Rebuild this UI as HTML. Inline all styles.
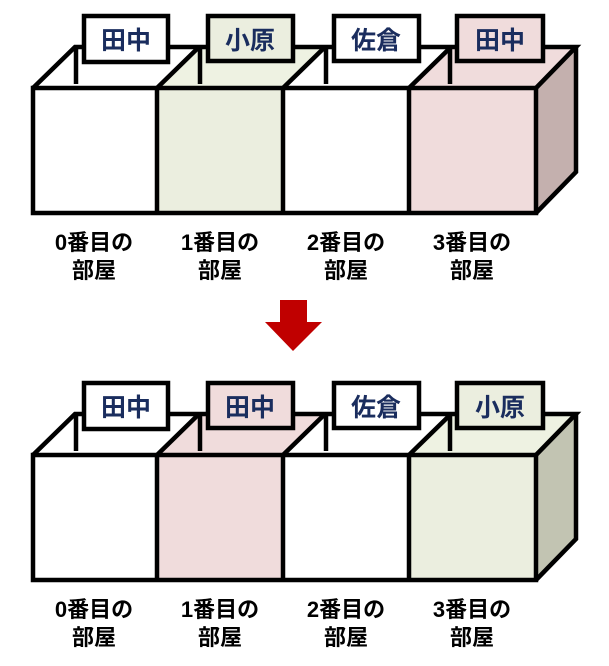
<!DOCTYPE html>
<html><head><meta charset="utf-8"><style>
html,body{margin:0;padding:0;background:#fff;}
svg{display:block}
text{font-family:"Liberation Sans","Noto Sans CJK JP",sans-serif;font-weight:bold;}
</style></head><body>
<svg width="609" height="666" viewBox="0 0 609 666" xmlns="http://www.w3.org/2000/svg">
<!-- TOP DIAGRAM -->
<g id="top">
  <polygon points="33,88 75,47 199,47 157,88" fill="#fff"/>
  <polygon points="157,88 199,47 325,47 283,88" fill="#eef2e2"/>
  <polygon points="283,88 325,47 451,47 409,88" fill="#fff"/>
  <polygon points="409,88 451,47 576,47 536,88" fill="#f0dcdc"/>
  <polygon points="536,88 576,47 576,172 536,213" fill="#c4b0ae"/>
  <rect x="33" y="88" width="124" height="125" fill="#fff"/>
  <rect x="157" y="88" width="126" height="125" fill="#ebeedf"/>
  <rect x="283" y="88" width="126" height="125" fill="#fff"/>
  <rect x="409" y="88" width="127" height="125" fill="#f0dcdc"/>
  <g stroke="#000" stroke-width="4.5" fill="none" stroke-linejoin="miter">
    <polygon points="33,88 536,88 536,213 33,213"/>
    <line x1="157" y1="88" x2="157" y2="213"/>
    <line x1="283" y1="88" x2="283" y2="213"/>
    <line x1="409" y1="88" x2="409" y2="213"/>
    <polyline points="33,88 75,47 576,47 536,88"/>
    <polyline points="576,47 576,172 536,213"/>
    <line x1="157" y1="88" x2="199" y2="47"/>
    <line x1="283" y1="88" x2="325" y2="47"/>
    <line x1="409" y1="88" x2="451" y2="47"/>
    <line x1="76" y1="47" x2="76" y2="84"/>
    <line x1="200" y1="47" x2="200" y2="84"/>
    <line x1="326" y1="47" x2="326" y2="84"/>
    <line x1="450" y1="47" x2="450" y2="84"/>
  </g>
  <g stroke="#000" stroke-width="4.5">
    <rect x="84" y="16" width="84" height="46" fill="#fff"/>
    <rect x="208" y="16" width="85" height="45" fill="#ebeedf"/>
    <rect x="334" y="16" width="85" height="45" fill="#fff"/>
    <rect x="457" y="16" width="86" height="45" fill="#f0dcdc"/>
  </g>
  <g fill="#1a2d5e" font-size="25" text-anchor="middle">
    <text x="126" y="49">田中</text>
    <text x="250" y="49">小原</text>
    <text x="376" y="49">佐倉</text>
    <text x="500" y="49">田中</text>
  </g>
  <g fill="#000" font-size="22" text-anchor="middle">
    <text x="94" y="250">0番目の</text><text x="94" y="278">部屋</text>
    <text x="220" y="250">1番目の</text><text x="220" y="278">部屋</text>
    <text x="346" y="250">2番目の</text><text x="346" y="278">部屋</text>
    <text x="472" y="250">3番目の</text><text x="472" y="278">部屋</text>
  </g>
</g>
<polygon points="280,300 307,300 307,322 322,322 293,351 265,322 280,322" fill="#c00000"/>
<!-- BOTTOM DIAGRAM -->
<g transform="translate(0,367)">
  <polygon points="33,88 75,47 199,47 157,88" fill="#fff"/>
  <polygon points="157,88 199,47 325,47 283,88" fill="#f0dcdc"/>
  <polygon points="283,88 325,47 451,47 409,88" fill="#fff"/>
  <polygon points="409,88 451,47 576,47 536,88" fill="#eef2e2"/>
  <polygon points="536,88 576,47 576,172 536,213" fill="#c2c4b2"/>
  <rect x="33" y="88" width="124" height="125" fill="#fff"/>
  <rect x="157" y="88" width="126" height="125" fill="#f0dcdc"/>
  <rect x="283" y="88" width="126" height="125" fill="#fff"/>
  <rect x="409" y="88" width="127" height="125" fill="#ebeedf"/>
  <g stroke="#000" stroke-width="4.5" fill="none">
    <polygon points="33,88 536,88 536,213 33,213"/>
    <line x1="157" y1="88" x2="157" y2="213"/>
    <line x1="283" y1="88" x2="283" y2="213"/>
    <line x1="409" y1="88" x2="409" y2="213"/>
    <polyline points="33,88 75,47 576,47 536,88"/>
    <polyline points="576,47 576,172 536,213"/>
    <line x1="157" y1="88" x2="199" y2="47"/>
    <line x1="283" y1="88" x2="325" y2="47"/>
    <line x1="409" y1="88" x2="451" y2="47"/>
    <line x1="76" y1="47" x2="76" y2="84"/>
    <line x1="200" y1="47" x2="200" y2="84"/>
    <line x1="326" y1="47" x2="326" y2="84"/>
    <line x1="450" y1="47" x2="450" y2="84"/>
  </g>
  <g stroke="#000" stroke-width="4.5">
    <rect x="84" y="16" width="84" height="46" fill="#fff"/>
    <rect x="208" y="16" width="85" height="45" fill="#f0dcdc"/>
    <rect x="334" y="16" width="85" height="45" fill="#fff"/>
    <rect x="457" y="16" width="86" height="45" fill="#ebeedf"/>
  </g>
  <g fill="#1a2d5e" font-size="25" text-anchor="middle">
    <text x="126" y="49">田中</text>
    <text x="250" y="49">田中</text>
    <text x="376" y="49">佐倉</text>
    <text x="500" y="49">小原</text>
  </g>
  <g fill="#000" font-size="22" text-anchor="middle">
    <text x="94" y="250">0番目の</text><text x="94" y="278">部屋</text>
    <text x="220" y="250">1番目の</text><text x="220" y="278">部屋</text>
    <text x="346" y="250">2番目の</text><text x="346" y="278">部屋</text>
    <text x="472" y="250">3番目の</text><text x="472" y="278">部屋</text>
  </g>
</g>
</svg>
</body></html>
